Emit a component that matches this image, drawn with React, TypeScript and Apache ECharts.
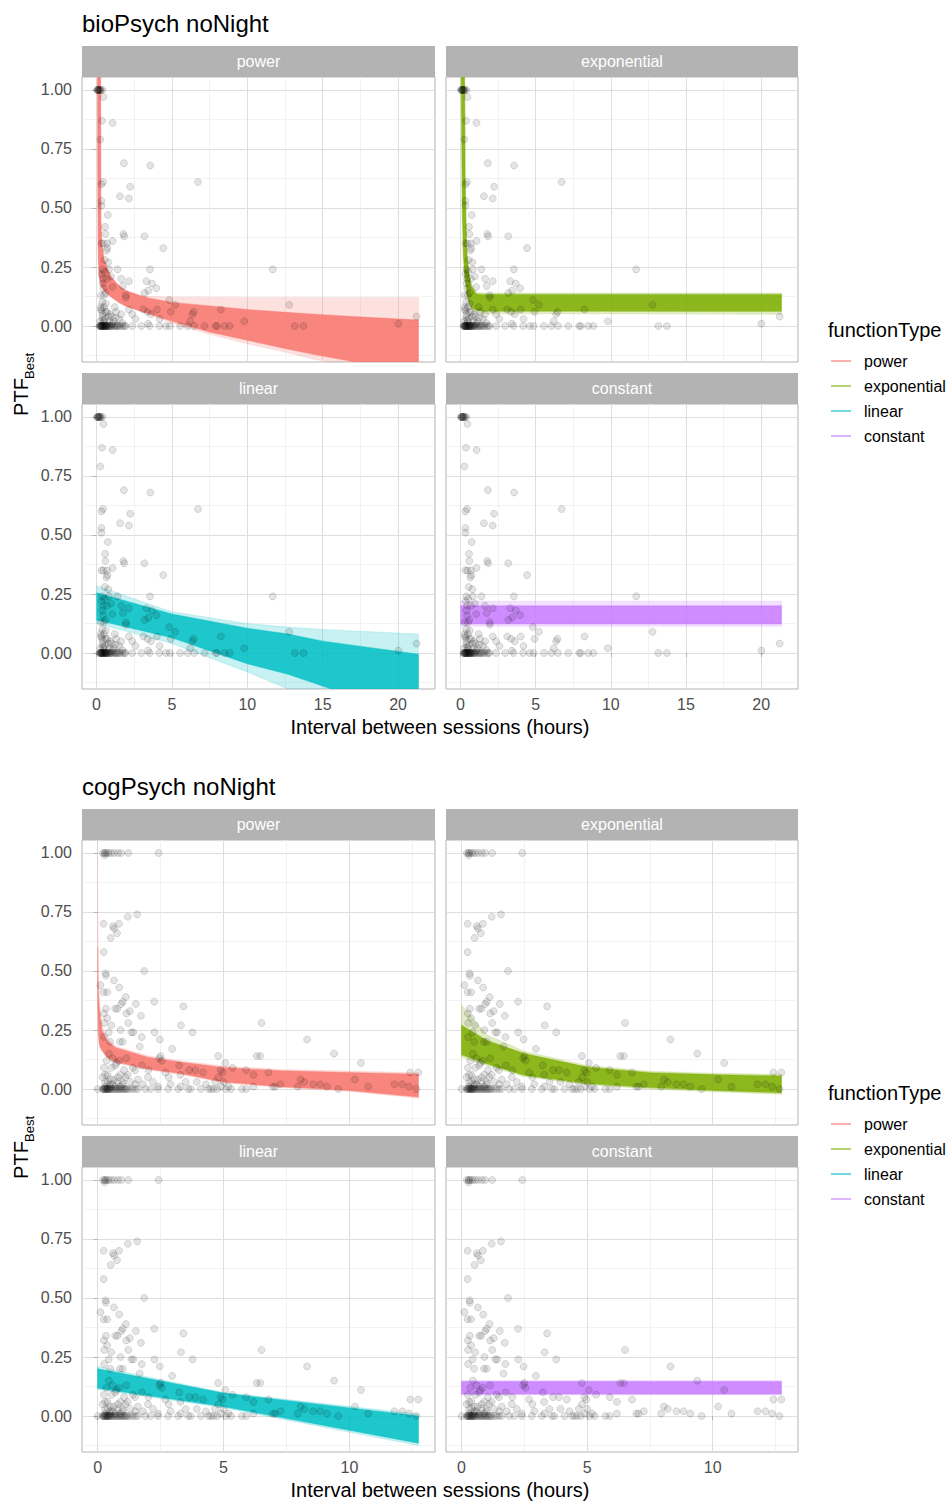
import React, { useEffect, useRef } from 'react';
import * as echarts from 'echarts';

const FONT = '"Liberation Sans", Arial, Helvetica, sans-serif';

// ---------- labels ----------
const FUNCTION_TYPES = ['power', 'exponential', 'linear', 'constant'];
const TYPE_COLORS = ['#F8766D', '#7CAE00', '#00BFC4', '#C77CFF'];
const CHART_TITLES = ['bioPsych noNight', 'cogPsych noNight'];
const X_AXIS_TITLE = 'Interval between sessions (hours)';
const LEGEND_TITLE = 'functionType';

// ---------- ticks / ranges ----------
const Y_MAJOR = [0, 0.25, 0.5, 0.75, 1];
const Y_MINOR = [-0.125, 0.125, 0.375, 0.625, 0.875];
const Y_RANGE = [-0.1525, 1.055];
const BIO_X_MAJOR = [0, 5, 10, 15, 20];
const BIO_X_MINOR = [2.5, 7.5, 12.5, 17.5];
const BIO_X_RANGE = [-0.96, 22.45];
const COG_X_MAJOR = [0, 5, 10];
const COG_X_MINOR = [2.5, 7.5, 12.5];
const COG_X_RANGE = [-0.62, 13.4];

// ---------- observed points (interval hours, PTF best) ----------
const BIO_POINTS: number[][] = [
  [0.04, 1], [0.1, 1], [0.15, 1], [0.22, 1], [0.3, 1], [0.4, 1], [0.05, 1], [0.12, 1], [0.18, 1], [0.25, 1],
  [0.46, 0.97], [0.37, 0.87], [1.07, 0.86], [0.26, 0.79], [1.82, 0.69], [3.57, 0.68], [6.73, 0.61],
  [0.44, 0.61], [0.33, 0.6], [2.24, 0.59], [1.56, 0.55], [2.15, 0.54], [0.33, 0.53], [0.33, 0.51],
  [0.75, 0.47], [0.57, 0.42], [0.59, 0.39], [1.78, 0.39], [1.84, 0.38], [3.18, 0.38], [0.33, 0.35],
  [0.46, 0.35], [1.07, 0.36], [0.7, 0.35], [0.72, 0.33], [0.66, 0.32], [4.43, 0.33], [0.55, 0.28],
  [0.79, 0.27], [0.39, 0.24], [0.83, 0.24], [1.4, 0.24], [3.55, 0.24], [11.69, 0.24], [0.96, 0.21],
  [0.44, 0.2], [1.64, 0.2], [2.15, 0.19], [3.31, 0.19], [0.7, 0.2], [3.68, 0.18], [1.05, 0.165],
  [3.97, 0.16], [3.44, 0.15], [3.18, 0.14], [1.75, 0.17], [0.5, 0.13], [0.29, 0.13], [1.95, 0.13],
  [1.95, 0.12], [0.61, 0.095], [4.82, 0.11], [5.22, 0.09], [12.78, 0.09], [0.29, 0.08], [1.21, 0.08],
  [8.25, 0.07], [3.11, 0.07], [4.01, 0.07], [2.15, 0.07], [3.38, 0.06], [4.93, 0.06], [6.45, 0.06],
  [3.62, 0.05], [6.36, 0.05], [1.64, 0.05], [2.37, 0.05], [21.23, 0.04], [4.19, 0.03], [0.39, 0.035],
  [1.27, 0.035], [0.79, 0.04], [2.59, 0.03], [6.21, 0.02], [9.8, 0.02], [20.02, 0.01], [3.42, 0.01],
  [0.5, 0.017], [1.05, 0.01], [1.71, 0.013], [0.35, 0.22], [0.4, 0.18], [0.45, 0.16], [0.38, 0.1],
  [0.52, 0.23], [0.6, 0.14], [0.3, 0.07], [0.6, 0.06], [0.9, 0.05], [1.15, 0.02], [0.45, 0.025],
  [0.25, 0.02], [0.4, 0.05], [0.55, 0.03], [0.7, 0.06], [0.85, 0.02], [1.0, 0.04], [1.3, 0.06],
  [0.35, 0.065], [0.5, 0.08], [1.5, 0.03],
  [0.2, 0], [0.25, 0], [0.28, 0], [0.32, 0], [0.35, 0], [0.38, 0], [0.42, 0], [0.47, 0], [0.5, 0],
  [0.55, 0], [0.58, 0], [0.62, 0], [0.65, 0], [0.7, 0], [0.75, 0], [0.85, 0], [0.95, 0], [1.1, 0],
  [1.25, 0], [1.4, 0], [1.5, 0], [1.93, 0], [2.37, 0], [2.98, 0], [3.53, 0], [4.17, 0], [4.61, 0],
  [4.87, 0], [5.55, 0], [6.05, 0], [6.49, 0], [7.17, 0], [7.9, 0], [8.0, 0], [8.5, 0], [8.84, 0],
  [13.16, 0], [13.73, 0], [0.22, 0], [0.3, 0], [0.36, 0], [0.44, 0], [0.52, 0], [0.6, 0], [0.68, 0],
  [0.8, 0], [0.9, 0], [1.0, 0], [1.2, 0], [1.35, 0], [1.6, 0], [1.75, 0], [1.85, 0],
];

const COG_POINTS: number[][] = [
  [0.21, 1], [0.28, 1], [0.3, 1], [0.37, 1], [0.44, 1], [0.54, 1], [0.66, 1], [0.81, 1], [0.94, 1],
  [1.22, 1], [2.42, 1], [0.28, 0.99],
  [1.57, 0.74], [1.2, 0.73], [0.24, 0.7], [0.85, 0.7], [0.61, 0.69], [0.65, 0.68], [0.77, 0.66],
  [0.52, 0.64], [0.24, 0.58], [1.85, 0.5], [0.32, 0.49], [0.33, 0.48], [0.65, 0.46], [0.11, 0.44],
  [0.86, 0.43], [0.24, 0.41], [0.38, 0.41], [1.12, 0.39], [1.0, 0.37], [0.94, 0.36], [2.25, 0.37],
  [1.52, 0.36], [3.41, 0.35], [0.33, 0.34], [0.7, 0.34], [0.79, 0.34], [1.28, 0.33], [1.14, 0.32],
  [0.25, 0.32], [1.72, 0.31], [0.38, 0.3], [1.22, 0.28], [6.51, 0.28], [0.26, 0.28], [0.54, 0.27],
  [0.91, 0.25], [3.31, 0.27], [1.34, 0.24], [1.42, 0.24], [2.26, 0.24], [3.77, 0.24], [0.44, 0.24],
  [1.75, 0.22], [0.26, 0.22], [8.32, 0.21], [2.47, 0.21], [0.89, 0.2], [1.0, 0.2], [0.5, 0.2],
  [1.67, 0.18], [2.96, 0.17], [9.39, 0.15], [4.79, 0.14], [6.32, 0.14], [6.46, 0.14], [2.5, 0.14],
  [2.45, 0.13], [2.55, 0.12], [10.46, 0.11], [5.07, 0.11], [12.42, 0.07], [12.74, 0.07], [10.22, 0.04],
  [10.75, 0.01], [11.79, 0.02], [12.1, 0.02], [12.37, 0.01], [12.66, 0], [9.11, 0.01], [9.56, 0],
  [8.84, 0.02], [8.56, 0.02], [8.21, 0.03], [8.06, 0.04], [7.95, 0.01], [7.26, 0.02], [6.96, 0.01],
  [6.79, 0.07], [6.19, 0.06], [5.9, 0.08], [5.36, 0.09], [4.89, 0.08], [4.97, 0.07], [4.19, 0.07],
  [3.88, 0.08], [3.64, 0.08], [3.24, 0.1], [3.29, 0.06], [1.76, 0.1], [1.14, 0.13], [1.49, 0.08],
  [2.02, 0.08], [2.69, 0.07], [2.82, 0.05], [3.94, 0.03], [4.67, 0.03], [4.8, 0.05], [5.2, 0.01],
  [5.73, 0], [6.19, 0.01], [7.05, 0.01],
  [0.2, 0.05], [0.3, 0.03], [0.4, 0.06], [0.5, 0.02], [0.55, 0.09], [0.65, 0.04], [0.7, 0.1],
  [0.8, 0.03], [0.9, 0.06], [1.0, 0.02], [1.1, 0.05], [1.3, 0.03], [1.4, 0.09], [1.6, 0.04],
  [1.8, 0.02], [2.0, 0.05], [2.2, 0.03], [0.35, 0.12], [0.45, 0.15], [0.6, 0.13], [0.75, 0.11],
  [0.25, 0.09], [0.85, 0.12], [1.05, 0.08],
  [0.3, 0.01], [0.5, 0.01], [0.7, 0.01], [0.9, 0.01], [1.0, 0.03], [0.4, 0.03], [0.6, 0.02],
  [0.8, 0.05], [0.3, 0.06], [0.5, 0.04], [1.2, 0.06], [1.5, 0.02], [2.4, 0.01], [2.9, 0.02],
  [3.3, 0.01], [3.5, 0.03], [4.3, 0.02], [4.9, 0.01], [5.0, 0.03],
  [0.0, 0], [0.2, 0], [0.25, 0], [0.3, 0], [0.35, 0], [0.4, 0], [0.45, 0], [0.5, 0], [0.6, 0],
  [0.7, 0], [0.8, 0], [0.9, 0], [1.0, 0], [1.1, 0], [1.2, 0], [1.5, 0], [1.9, 0], [2.1, 0], [2.4, 0],
  [2.8, 0], [3.2, 0], [3.6, 0], [3.7, 0], [4.1, 0], [4.5, 0], [4.6, 0], [4.75, 0], [5.1, 0],
  [5.3, 0], [5.9, 0], [0.22, 0], [0.28, 0], [0.33, 0], [0.38, 0], [0.42, 0], [0.48, 0], [0.55, 0],
  [0.65, 0], [0.75, 0], [0.85, 0], [0.95, 0], [1.05, 0], [1.15, 0], [1.3, 0], [1.4, 0], [1.6, 0],
  [4.4, 0],
];

// ---------- posterior curve envelopes ----------
// bioPsych power
const BIO_POWER_X = [0.05, 0.07, 0.09, 0.11, 0.13, 0.18, 0.27, 0.29, 0.35, 0.5, 0.94, 1.5, 1.93, 2.8, 3.5, 5, 7.5, 10, 12.5, 14.4, 17, 21.35];
const BIO_POWER_OUTER_HI = [1.5, 1.4, 1.3, 1.2, 1.15, 1.1, 1.06, 0.45, 0.35, 0.28, 0.21, 0.17, 0.15, 0.132, 0.125, 0.122, 0.121, 0.12, 0.12, 0.12, 0.12, 0.12];
const BIO_POWER_OUTER_LO = [1.3, 1.05, 0.6, 0.35, 0.28, 0.21, 0.18, 0.175, 0.165, 0.15, 0.125, 0.1, 0.085, 0.066, 0.05, 0.012, -0.035, -0.075, -0.11, -0.14, -0.17, -0.22];
const BIO_POWER_CORE_HI = [1.5, 1.4, 1.3, 1.2, 1.15, 1.1, 1.06, 0.45, 0.35, 0.28, 0.21, 0.17, 0.15, 0.13, 0.118, 0.1, 0.085, 0.07, 0.058, 0.05, 0.04, 0.025];
const BIO_POWER_CORE_LO = [1.3, 1.05, 0.6, 0.35, 0.28, 0.21, 0.18, 0.175, 0.165, 0.15, 0.125, 0.1, 0.085, 0.066, 0.052, 0.02, -0.025, -0.06, -0.095, -0.12, -0.15, -0.2];
// bioPsych exponential
const BIO_EXP_X = [0.02, 0.07, 0.13, 0.2, 0.27, 0.29, 0.31, 0.4, 0.44, 0.58, 0.73, 0.8, 1.06, 1.5, 21.35];
const BIO_EXP_OUTER_HI = [2.0, 1.6, 1.3, 1.15, 1.06, 0.92, 0.64, 0.36, 0.31, 0.22, 0.18, 0.17, 0.142, 0.14, 0.14];
const BIO_EXP_OUTER_LO = [1.3, 0.9, 0.48, 0.29, 0.22, 0.2, 0.19, 0.15, 0.128, 0.092, 0.072, 0.066, 0.058, 0.052, 0.05];
const BIO_EXP_CORE_HI = [2.0, 1.6, 1.3, 1.15, 1.05, 0.91, 0.63, 0.35, 0.3, 0.21, 0.17, 0.16, 0.136, 0.134, 0.134];
const BIO_EXP_CORE_LO = [1.3, 0.91, 0.49, 0.3, 0.23, 0.21, 0.2, 0.16, 0.137, 0.1, 0.08, 0.075, 0.068, 0.063, 0.062];
// bioPsych linear
const BIO_LIN_X = [0.02, 5, 10, 12.7, 15, 21.35];
const BIO_LIN_OUTER_HI = [0.285, 0.175, 0.125, 0.11, 0.1, 0.08];
const BIO_LIN_OUTER_LO = [0.125, 0.04, -0.08, -0.153, -0.2, -0.34];
const BIO_LIN_CORE_HI = [0.255, 0.165, 0.105, 0.08, 0.05, -0.005];
const BIO_LIN_CORE_LO = [0.14, 0.065, -0.045, -0.09, -0.14, -0.28];
// bioPsych constant
const BIO_CONST_X = [0.02, 21.35];
const BIO_CONST_OUTER_HI = [0.219, 0.219];
const BIO_CONST_OUTER_LO = [0.113, 0.113];
const BIO_CONST_CORE_HI = [0.2, 0.2];
const BIO_CONST_CORE_LO = [0.123, 0.123];
// cogPsych power
const COG_POWER_X = [0.003, 0.01, 0.03, 0.06, 0.1, 0.17, 0.37, 0.7, 2.02, 3.35, 5, 7.3, 10, 12.74];
const COG_POWER_OUTER_HI = [1.05, 0.75, 0.52, 0.41, 0.34, 0.27, 0.215, 0.182, 0.14, 0.119, 0.097, 0.083, 0.076, 0.069];
const COG_POWER_OUTER_LO = [0.5, 0.33, 0.24, 0.195, 0.175, 0.16, 0.132, 0.111, 0.081, 0.061, 0.026, 0.006, -0.01, -0.038];
const COG_POWER_CORE_HI = [0.6, 0.48, 0.4, 0.35, 0.31, 0.25, 0.205, 0.176, 0.134, 0.113, 0.091, 0.077, 0.07, 0.063];
const COG_POWER_CORE_LO = [0.52, 0.35, 0.25, 0.2, 0.18, 0.165, 0.136, 0.115, 0.085, 0.065, 0.03, 0.01, -0.006, -0.034];
// cogPsych exponential
const COG_EXP_X = [0.0, 1, 2.5, 5, 7.5, 10, 12.74];
const COG_EXP_OUTER_HI = [0.355, 0.23, 0.16, 0.1, 0.075, 0.067, 0.062];
const COG_EXP_OUTER_LO = [0.135, 0.1, 0.052, 0.018, 0.0, -0.012, -0.022];
const COG_EXP_CORE_HI = [0.27, 0.206, 0.15, 0.093, 0.069, 0.061, 0.055];
const COG_EXP_CORE_LO = [0.145, 0.107, 0.058, 0.023, 0.006, -0.006, -0.016];
// cogPsych linear
const COG_LIN_X = [0.0, 5, 12.74];
const COG_LIN_OUTER_HI = [0.21, 0.1, 0.008];
const COG_LIN_OUTER_LO = [0.112, 0.035, -0.125];
const COG_LIN_CORE_HI = [0.2, 0.097, 0.0];
const COG_LIN_CORE_LO = [0.118, 0.04, -0.115];
// cogPsych constant
const COG_CONST_X = [0.0, 12.74];
const COG_CONST_OUTER_HI = [0.15, 0.15];
const COG_CONST_OUTER_LO = [0.089, 0.089];
const COG_CONST_CORE_HI = [0.146, 0.146];
const COG_CONST_CORE_LO = [0.093, 0.093];

const CHARTS = [
  {
    title: CHART_TITLES[0], points: BIO_POINTS, xRange: BIO_X_RANGE, xMajor: BIO_X_MAJOR, xMinor: BIO_X_MINOR,
    bands: [
      { x: BIO_POWER_X, oh: BIO_POWER_OUTER_HI, ol: BIO_POWER_OUTER_LO, ch: BIO_POWER_CORE_HI, cl: BIO_POWER_CORE_LO },
      { x: BIO_EXP_X, oh: BIO_EXP_OUTER_HI, ol: BIO_EXP_OUTER_LO, ch: BIO_EXP_CORE_HI, cl: BIO_EXP_CORE_LO },
      { x: BIO_LIN_X, oh: BIO_LIN_OUTER_HI, ol: BIO_LIN_OUTER_LO, ch: BIO_LIN_CORE_HI, cl: BIO_LIN_CORE_LO },
      { x: BIO_CONST_X, oh: BIO_CONST_OUTER_HI, ol: BIO_CONST_OUTER_LO, ch: BIO_CONST_CORE_HI, cl: BIO_CONST_CORE_LO },
    ],
  },
  {
    title: CHART_TITLES[1], points: COG_POINTS, xRange: COG_X_RANGE, xMajor: COG_X_MAJOR, xMinor: COG_X_MINOR,
    bands: [
      { x: COG_POWER_X, oh: COG_POWER_OUTER_HI, ol: COG_POWER_OUTER_LO, ch: COG_POWER_CORE_HI, cl: COG_POWER_CORE_LO },
      { x: COG_EXP_X, oh: COG_EXP_OUTER_HI, ol: COG_EXP_OUTER_LO, ch: COG_EXP_CORE_HI, cl: COG_EXP_CORE_LO },
      { x: COG_LIN_X, oh: COG_LIN_OUTER_HI, ol: COG_LIN_OUTER_LO, ch: COG_LIN_CORE_HI, cl: COG_LIN_CORE_LO },
      { x: COG_CONST_X, oh: COG_CONST_OUTER_HI, ol: COG_CONST_OUTER_LO, ch: COG_CONST_CORE_HI, cl: COG_CONST_CORE_LO },
    ],
  },
];

// ---------- layout ----------
const PANEL_LEFT = [82, 446];
const PANEL_WIDTH = [353, 352];
const PANEL_TOP = [77, 404];
const PANEL_HEIGHT = 285;
const STRIP_HEIGHT = 31;
const CHART_OFFSET = [0, 763];

function rgba(hex: string, a: number) {
  const n = parseInt(hex.slice(1), 16);
  return `rgba(${(n >> 16) & 255},${(n >> 8) & 255},${n & 255},${a})`;
}

function bandSeries(g: number, xs: number[], lo: number[], hi: number[], color: string, alpha: number, edgeAlpha: number, z: number) {
  return {
    type: 'custom',
    xAxisIndex: g * 2,
    yAxisIndex: g * 2,
    silent: true,
    clip: true,
    z,
    data: [[xs[0], lo[0]]],
    renderItem: (params: any, api: any) => {
      const pts: number[][] = [];
      for (let i = 0; i < xs.length; i++) pts.push(api.coord([xs[i], hi[i]]));
      for (let i = xs.length - 1; i >= 0; i--) pts.push(api.coord([xs[i], lo[i]]));
      const cs = params.coordSys;
      return {
        type: 'polygon',
        shape: { points: pts },
        style: { fill: rgba(color, alpha), stroke: rgba(color, edgeAlpha), lineWidth: 1.2 },
        clipPath: { type: 'rect', shape: { x: cs.x, y: cs.y, width: cs.width, height: cs.height } },
      };
    },
  };
}

function buildOption() {
  const grid: any[] = [];
  const xAxis: any[] = [];
  const yAxis: any[] = [];
  const series: any[] = [];
  const graphic: any[] = [];

  CHARTS.forEach((chart, c) => {
    const off = CHART_OFFSET[c];
    graphic.push({
      type: 'text', x: 82, y: 23 + off,
      style: { text: chart.title, font: `24px ${FONT}`, fill: '#000', align: 'left', verticalAlign: 'middle' },
    });
    graphic.push({
      type: 'text', x: 440, y: 727 + off,
      style: { text: X_AXIS_TITLE, font: `20px ${FONT}`, fill: '#000', align: 'center', verticalAlign: 'middle' },
    });
    graphic.push({
      type: 'text', x: 21, y: 397 + off, rotation: Math.PI / 2,
      style: { text: 'PTF', font: `20px ${FONT}`, fill: '#000', align: 'center', verticalAlign: 'middle' },
    });
    graphic.push({
      type: 'text', x: 29.5, y: 366 + off, rotation: Math.PI / 2,
      style: { text: 'Best', font: `13px ${FONT}`, fill: '#000', align: 'center', verticalAlign: 'middle' },
    });
    graphic.push({
      type: 'text', x: 828, y: 330 + off,
      style: { text: LEGEND_TITLE, font: `20px ${FONT}`, fill: '#000', align: 'left', verticalAlign: 'middle' },
    });
    FUNCTION_TYPES.forEach((ft, k) => {
      const yy = 361 + k * 25 + off;
      graphic.push({
        type: 'line', shape: { x1: 831, y1: yy, x2: 851, y2: yy },
        style: { stroke: rgba(TYPE_COLORS[k], 0.75), lineWidth: 1.5 },
      });
      graphic.push({
        type: 'text', x: 864, y: yy,
        style: { text: ft, font: `16px ${FONT}`, fill: '#000', align: 'left', verticalAlign: 'middle' },
      });
    });

    for (let p = 0; p < 4; p++) {
      const g = c * 4 + p;
      const row = p >> 1;
      const col = p & 1;
      const top = PANEL_TOP[row] + off;
      grid.push({
        left: PANEL_LEFT[col], top, width: PANEL_WIDTH[col], height: PANEL_HEIGHT,
        show: true, borderColor: '#B3B3B3', borderWidth: 1, backgroundColor: 'rgba(0,0,0,0)', containLabel: false,
      });
      graphic.push({
        type: 'rect', shape: { x: PANEL_LEFT[col], y: top - STRIP_HEIGHT, width: PANEL_WIDTH[col], height: STRIP_HEIGHT },
        style: { fill: '#B3B3B3' },
      });
      graphic.push({
        type: 'text', x: PANEL_LEFT[col] + PANEL_WIDTH[col] / 2, y: top - STRIP_HEIGHT / 2,
        style: { text: FUNCTION_TYPES[p], font: `16px ${FONT}`, fill: '#FFFFFF', align: 'center', verticalAlign: 'middle' },
      });

      const showX = row === 1;
      const showY = col === 0;
      xAxis.push({
        type: 'value', gridIndex: g, min: chart.xRange[0], max: chart.xRange[1], position: 'bottom',
        axisLine: { show: false },
        axisTick: { show: showX, length: 4, lineStyle: { color: '#B3B3B3' }, customValues: chart.xMajor },
        axisLabel: { show: showX, customValues: chart.xMajor, color: '#4D4D4D', fontSize: 16, fontFamily: FONT, margin: 7 },
        splitLine: { show: true, lineStyle: { color: '#DEDEDE', width: 1 } },
      });
      xAxis.push({
        type: 'value', gridIndex: g, min: chart.xRange[0], max: chart.xRange[1], position: 'top',
        axisLine: { show: false },
        axisTick: { show: false, customValues: chart.xMinor },
        axisLabel: { show: false, customValues: chart.xMinor },
        splitLine: { show: true, lineStyle: { color: '#EDEDED', width: 0.7 } },
      });
      yAxis.push({
        type: 'value', gridIndex: g, min: Y_RANGE[0], max: Y_RANGE[1], position: 'left',
        axisLine: { show: false },
        axisTick: { show: showY, length: 4, lineStyle: { color: '#B3B3B3' }, customValues: Y_MAJOR },
        axisLabel: {
          show: showY, customValues: Y_MAJOR, color: '#4D4D4D', fontSize: 16, fontFamily: FONT, margin: 10,
          formatter: (v: number) => v.toFixed(2),
        },
        splitLine: { show: true, lineStyle: { color: '#DEDEDE', width: 1 } },
      });
      yAxis.push({
        type: 'value', gridIndex: g, min: Y_RANGE[0], max: Y_RANGE[1], position: 'right',
        axisLine: { show: false },
        axisTick: { show: false, customValues: Y_MINOR },
        axisLabel: { show: false, customValues: Y_MINOR },
        splitLine: { show: true, lineStyle: { color: '#EDEDED', width: 0.7 } },
      });

      const b = chart.bands[p];
      const color = TYPE_COLORS[p];
      series.push(bandSeries(g, b.x, b.ol, b.oh, color, 0.22, 0.12, 2));
      series.push(bandSeries(g, b.x, b.cl, b.ch, color, 0.85, 0.4, 3));
      series.push({
        type: 'scatter', xAxisIndex: g * 2, yAxisIndex: g * 2, z: 4, silent: true,
        symbol: 'circle', symbolSize: 7,
        itemStyle: { color: 'rgba(0,0,0,0.13)', borderColor: 'rgba(0,0,0,0.22)', borderWidth: 0.7 },
        data: chart.points,
      });
    }
  });

  return { animation: false, backgroundColor: '#FFFFFF', grid, xAxis, yAxis, series, graphic };
}

export default function App() {
  const ref = useRef<HTMLDivElement>(null);
  useEffect(() => {
    if (!ref.current) return;
    const chart = echarts.init(ref.current, undefined, { renderer: 'svg' });
    chart.setOption(buildOption() as any);
    return () => chart.dispose();
  }, []);
  return <div ref={ref} style={{ position: 'absolute', left: 0, top: 0, width: 950, height: 1501, background: '#fff' }} />;
}
